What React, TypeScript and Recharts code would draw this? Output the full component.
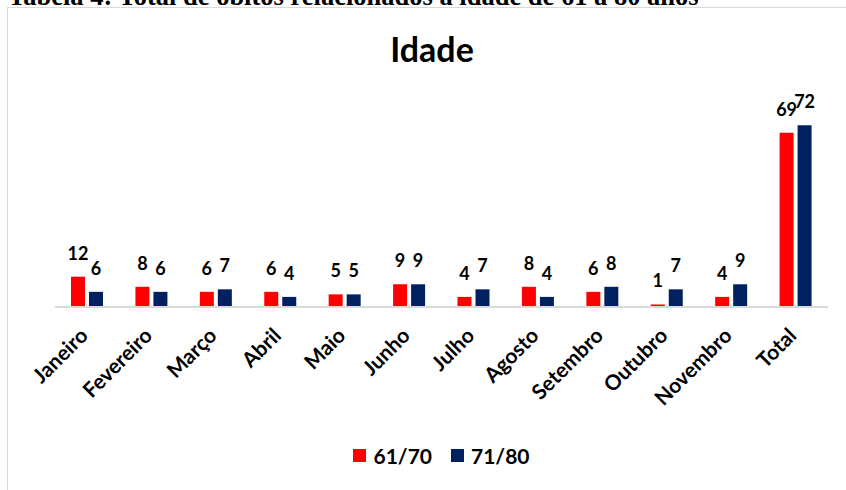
import { BarChart, Bar, XAxis, YAxis, LabelList, Legend } from 'recharts';

const months = ['Janeiro', 'Fevereiro', 'Março', 'Abril', 'Maio', 'Junho', 'Julho', 'Agosto', 'Setembro', 'Outubro', 'Novembro', 'Total'];
const age6170 = [12, 8, 6, 6, 5, 9, 4, 8, 6, 1, 4, 69];
const age7180 = [6, 6, 7, 4, 5, 9, 7, 4, 8, 7, 9, 72];

const data = months.map((m, i) => ({ name: m, a: age6170[i], b: age7180[i] }));

const FONT = 'Lato, "Open Sans", sans-serif';

const MonthTick = (props: any) => {
  const { x, y, payload } = props;
  return (
    <g transform={`translate(${x + 2},${y + 30})`}>
      <text textAnchor="end" transform="rotate(-45)" fontFamily={FONT} fontWeight={700} fontSize={21} fill="#000">
        {payload.value}
      </text>
    </g>
  );
};

const LegendBox = () => (
  <div style={{ display: 'flex', justifyContent: 'center', alignItems: 'center', fontFamily: FONT, fontWeight: 700, fontSize: 21, color: '#000', height: 26 }}>
    <span style={{ width: 13, height: 13, background: '#ff0000', marginRight: 7, display: 'inline-block' }} />
    <span style={{ marginRight: 19 }}>61/70</span>
    <span style={{ width: 13, height: 13, background: '#002060', marginRight: 7, display: 'inline-block' }} />
    <span>71/80</span>
  </div>
);

export default function App() {
  return (
    <div style={{ position: 'absolute', left: 0, top: 0, width: 846, height: 490, overflow: 'hidden', background: '#fff' }}>
      <div style={{ position: 'absolute', left: 8, top: -19, fontFamily: '"Liberation Serif", serif', fontWeight: 700, fontSize: 26.5, lineHeight: '30px', whiteSpace: 'nowrap', color: '#000' }}>
        Tabela 4: Total de óbitos relacionados à idade de 61 a 80 anos
      </div>
      <div style={{ position: 'absolute', left: 7, top: 7, width: 900, height: 600, border: '1.5px solid #d9d9d9' }} />
      <div style={{ position: 'absolute', left: 9, top: 28, width: 846, textAlign: 'center', fontFamily: FONT, fontWeight: 700, fontSize: 34, color: '#000' }}>
        Idade
      </div>
      <div style={{ position: 'absolute', left: 0, top: 0 }}>
        <BarChart width={846} height={490} data={data} margin={{ top: 105, right: 18, left: 55, bottom: 22 }} barSize={14} barGap={4}>
          <YAxis hide domain={[0, 80]} width={0} />
          <XAxis dataKey="name" interval={0} axisLine={{ stroke: '#d9d9d9', strokeWidth: 2 }} tickLine={false} tickSize={0} tickMargin={0} height={135} tick={<MonthTick />} />
          <Legend verticalAlign="bottom" content={<LegendBox />} />
          <Bar dataKey="a" fill="#ff0000" isAnimationActive={false}>
            <LabelList dataKey="a" position="top" offset={17} fontFamily={FONT} fontWeight={700} fontSize={18} fill="#000" />
          </Bar>
          <Bar dataKey="b" fill="#002060" isAnimationActive={false}>
            <LabelList dataKey="b" position="top" offset={17} fontFamily={FONT} fontWeight={700} fontSize={18} fill="#000" />
          </Bar>
        </BarChart>
      </div>
    </div>
  );
}
